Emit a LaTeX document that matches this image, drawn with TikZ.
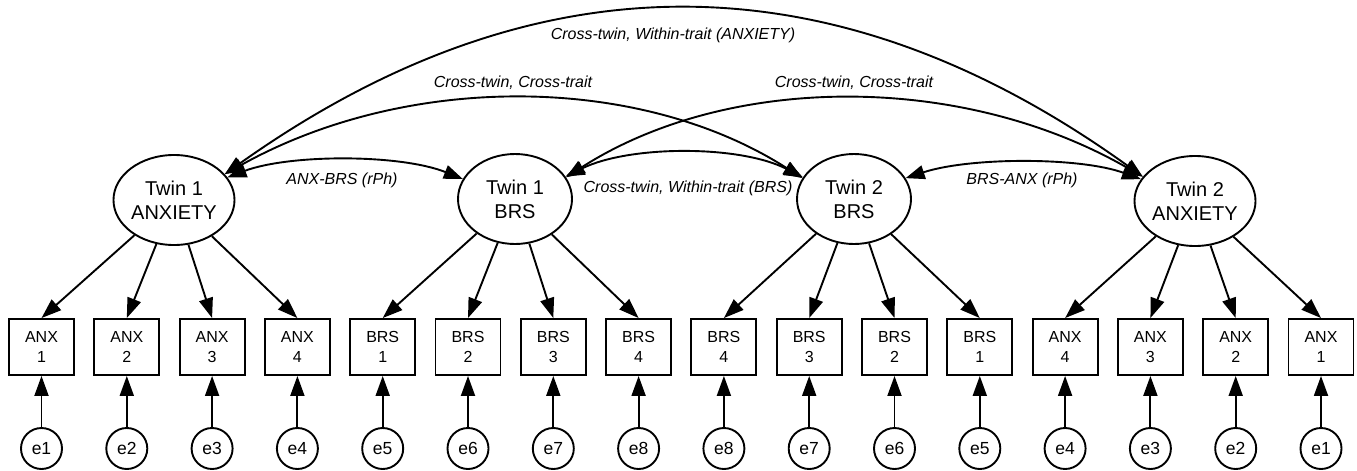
\documentclass[tikz,border=0pt]{standalone}
\usepackage{fontspec}
\setmainfont{Liberation Sans}
\usetikzlibrary{arrows.meta,shapes.geometric}
\begin{document}
\begin{tikzpicture}[x=1pt,y=-1pt,
  line width=1.9pt,
  tip/.style={-{Triangle[length=20pt,width=14pt]}},
  dtip/.style={{Triangle[length=19pt,width=14pt]}-{Triangle[length=19pt,width=14pt]}},
  latent/.style={draw, ellipse, minimum width=114pt, minimum height=90pt, inner sep=0pt, align=center, font=\fontsize{20}{24}\selectfont},
  obs/.style={draw, rectangle, minimum width=65pt, minimum height=56pt, inner sep=0pt, align=center, font=\fontsize{16}{19.5}\selectfont},
  err/.style={draw, circle, minimum size=41pt, inner sep=0pt, font=\fontsize{17.5}{20}\selectfont},
  lab/.style={font=\fontsize{16}{19}\selectfont\itshape, inner sep=0pt}
]
\useasboundingbox (0,0) rectangle (1357,471);

\node[latent] (t1a) at (174,200) {Twin 1\\ANXIETY};
\node[latent] (t1b) at (515,199) {Twin 1\\BRS};
\node[latent] (t2b) at (854,199) {Twin 2\\BRS};
\node[latent] (t2a) at (1195,201) {Twin 2\\ANXIETY};

\foreach \n/\t/\k/\e [count=\i from 0] in {a1/ANX/1/1, a2/ANX/2/2, a3/ANX/3/3, a4/ANX/4/4, b1/BRS/1/5, b2/BRS/2/6, b3/BRS/3/7, b4/BRS/4/8, c4/BRS/4/8, c3/BRS/3/7, c2/BRS/2/6, c1/BRS/1/5, d4/ANX/4/4, d3/ANX/3/3, d2/ANX/2/2, d1/ANX/1/1} {
  \node[obs] (\n) at ({41.5+85.3*\i},347) {\t\\\k};
  \node[err] (e\n) at ({41.5+85.3*\i},448.5) {e\e};
  \draw[tip] (e\n) -- (\n);
}

\foreach \n in {a1,a2,a3,a4} \draw[tip] (t1a) -- (\n.north);
\foreach \n in {b1,b2,b3,b4} \draw[tip] (t1b) -- (\n.north);
\foreach \n in {c4,c3,c2,c1} \draw[tip] (t2b) -- (\n.north);
\foreach \n in {d4,d3,d2,d1} \draw[tip] (t2a) -- (\n.north);

% curved covariances
\draw[dtip] (t1a.27) .. controls (535,-46) and (833,-46) .. (t2a.155);
\draw[dtip] (t1a.27) .. controls (408,72) and (640,74) .. (t2b.158);
\draw[dtip] (t1b.23) .. controls (727,74) and (960,72) .. (t2a.155);
\draw[dtip] (t1a.23) .. controls (290,154) and (400,154) .. (t1b.159);
\draw[dtip] (t1b.24) .. controls (630,145) and (740,145) .. (t2b.157);
\draw[dtip] (t2b.22) .. controls (970,157) and (1080,157) .. (t2a.158);

\node[lab] (l1) at (673,35) {Cross-twin, Within-trait (ANXIETY)};
\node[lab] (l2) at (513,83) {Cross-twin, Cross-trait};
\node[lab] (l3) at (854,83) {Cross-twin, Cross-trait};
\node[lab] (l4) at (342,180) {ANX-BRS (rPh)};
\node[lab] (l5) at (688,188) {Cross-twin, Within-trait (BRS)};
\node[lab] (l6) at (1022,180) {BRS-ANX (rPh)};
\end{tikzpicture}
\end{document}
